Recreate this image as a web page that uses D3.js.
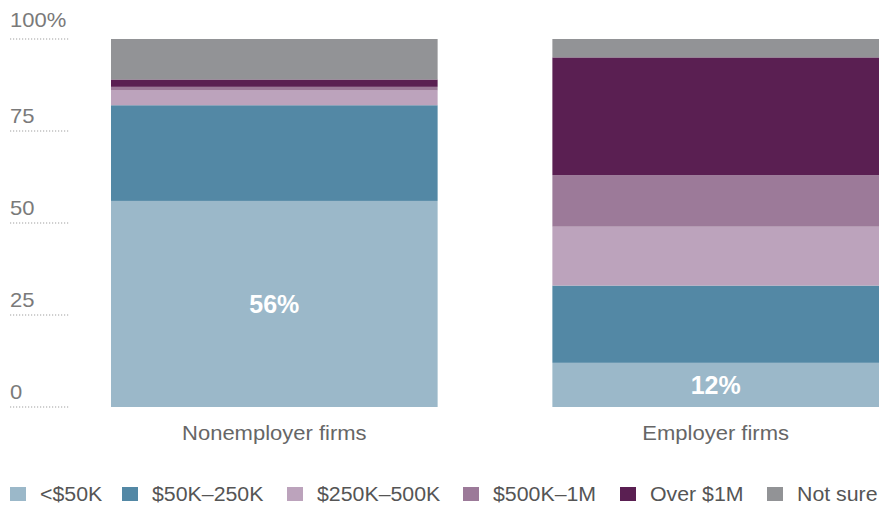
<!DOCTYPE html>
<html>
<head>
<meta charset="utf-8">
<script src="https://cdn.jsdelivr.net/npm/d3@7"></script>
<style>
  html, body { margin: 0; padding: 0; background: #fff; }
  svg { display: block; font-family: "Liberation Sans", Arial, sans-serif; }
</style>
</head>
<body>
<svg id="chart" width="881" height="506"></svg>
<script>
// Firm groups and revenue bands (share of firms, %)
const categories = ["Nonemployer firms", "Employer firms"];
const bands = ["<$50K", "$50K–250K", "$250K–500K", "$500K–1M", "Over $1M", "Not sure"];
const under50k   = [56, 12];
const k50to250   = [26, 21];
const k250to500  = [4, 16];
const k500to1m   = [1, 14];
const over1m     = [2, 32];
const notSure    = [11, 5];
const yTicks = [0, 25, 50, 75, 100];
const colors = ["#9bb8c9", "#5388a5", "#bca3bc", "#9c7a99", "#5a1f52", "#929396"];

const seriesValues = [under50k, k50to250, k250to500, k500to1m, over1m, notSure];
const rows = categories.map((c, i) => {
  const r = { category: c };
  bands.forEach((b, j) => r[b] = seriesValues[j][i]);
  return r;
});

const svg = d3.select("#chart");

// Places a text element at (x, y) with horizontal widening
function wideText(sel, x, y, stretch) {
  return sel.attr("x", 0).attr("y", 0)
    .attr("transform", (d, i, n) => {
      const xv = typeof x === "function" ? x(d, i, n) : x;
      const yv = typeof y === "function" ? y(d, i, n) : y;
      return `translate(${xv},${yv}) scale(${stretch},1)`;
    });
}

const x = d3.scaleBand().domain(categories).range([111, 879]).paddingInner(0.26).paddingOuter(0);
const y = d3.scaleLinear().domain([0, 100]).range([407, 39]);
const color = d3.scaleOrdinal().domain(bands).range(colors);

// Y axis: labels over short dotted rules
const ticks = svg.append("g").selectAll("g").data(yTicks).join("g")
  .attr("transform", d => `translate(0,${y(d)})`);
ticks.append("line")
  .attr("x1", 10).attr("x2", 69)
  .attr("stroke", "#a0a0a0").attr("stroke-width", 1.2)
  .attr("stroke-dasharray", "1.2,1.8");
wideText(ticks.append("text"), 10, d => d === 100 ? -12 : -8, 1.1)
  .attr("fill", "#7a7a7a").attr("font-size", 20)
  .text(d => d === 100 ? "100%" : d);

// Stacked bars
const stacked = d3.stack().keys(bands)(rows);
svg.append("g").selectAll("g").data(stacked).join("g")
  .attr("fill", d => color(d.key))
  .selectAll("rect").data(d => d).join("rect")
  .attr("x", d => x(d.data.category))
  .attr("width", x.bandwidth())
  .attr("y", d => y(d[1]))
  .attr("height", d => y(d[0]) - y(d[1]));

// Value label on the lowest band
svg.append("g").selectAll("text").data(stacked[0]).join("text")
  .attr("x", d => x(d.data.category) + x.bandwidth() / 2)
  .attr("y", d => (y(d[0]) + y(d[1])) / 2)
  .attr("dy", "0.36em")
  .attr("text-anchor", "middle")
  .attr("fill", "#fff").attr("font-weight", "bold").attr("font-size", 25)
  .text(d => `${d[1] - d[0]}%`);

// Category labels
wideText(svg.append("g").selectAll("text").data(categories).join("text"),
    d => x(d) + x.bandwidth() / 2, 440, 1.1)
  .attr("text-anchor", "middle")
  .attr("fill", "#666").attr("font-size", 20)
  .text(d => d);

// Legend: swatch + label, spread across the bottom
const legendX = [10, 122, 287, 463, 620, 767];
const legend = svg.append("g").selectAll("g").data(bands).join("g")
  .attr("transform", (d, i) => `translate(${legendX[i]},0)`);
legend.append("rect")
  .attr("x", 0).attr("y", 487).attr("width", 16).attr("height", 14)
  .attr("fill", d => color(d));
wideText(legend.append("text"), 30, 501, 1.04)
  .attr("fill", "#555").attr("font-size", 20.5)
  .text(d => d);
</script>
</body>
</html>
